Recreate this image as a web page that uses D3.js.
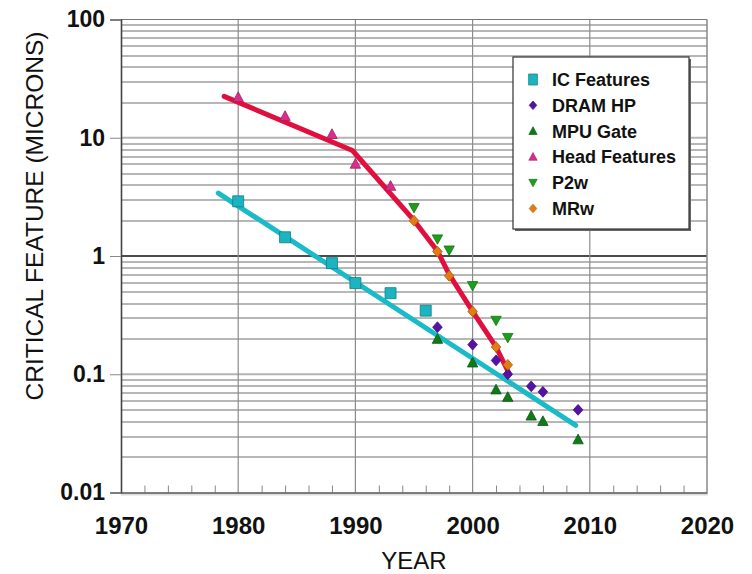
<!DOCTYPE html>
<html>
<head>
<meta charset="utf-8">
<script src="https://cdn.jsdelivr.net/npm/d3@7"></script>
<style>
  body { margin: 0; background: #fff; }
  svg { display: block; font-family: Arial, "Liberation Sans", sans-serif; }
</style>
</head>
<body>
<svg id="chart"></svg>
<script>
const WIDTH = 752
const HEIGHT = 574
const MARGIN = { left: 121, top: 19.5, right: 45, bottom: 81.5 }
const CHART_WIDTH = WIDTH - MARGIN.left - MARGIN.right
const CHART_HEIGHT = HEIGHT - MARGIN.top - MARGIN.bottom

// data: [year, microns]
const icFeatures = [[1980, 2.9], [1984, 1.44], [1988, 0.87], [1990, 0.59], [1993, 0.485], [1996, 0.345]]
const dramHP = [[1997, 0.25], [2000, 0.178], [2002, 0.131], [2003, 0.1], [2005, 0.079], [2006, 0.071], [2009, 0.05]]
const mpuGate = [[1997, 0.198], [2000, 0.125], [2002, 0.074], [2003, 0.064], [2005, 0.0445], [2006, 0.04], [2009, 0.028]]
const headFeatures = [[1980, 22], [1984, 15.2], [1988, 10.7], [1990, 6.0], [1993, 3.9]]
const p2w = [[1995, 2.56], [1997, 1.39], [1998, 1.12], [2000, 0.56], [2002, 0.285], [2003, 0.204]]
const mrw = [[1995, 1.99], [1997, 1.09], [1998, 0.68], [2000, 0.34], [2002, 0.17], [2003, 0.12]]

// trend lines
const icTrend = [[1978.3, 3.4], [2008.8, 0.037]]
const headTrend = [[1978.8, 22.4], [1989.75, 7.8], [1995, 2.0], [1997, 1.1], [1998, 0.7], [2000, 0.34], [2002, 0.17], [2003.1, 0.102]]

const yearTicks = [1970, 1980, 1990, 2000, 2010, 2020]
const valueTicks = [100, 10, 1, 0.1, 0.01]
const valueLabels = ["100", "10", "1", "0.1", "0.01"]

const series = [
  { name: "IC Features", data: icFeatures, shape: "square", fill: "#1cb4c0", stroke: "#0c7d86" },
  { name: "DRAM HP", data: dramHP, shape: "diamond", fill: "#5512a6", stroke: "#3c0a80" },
  { name: "MPU Gate", data: mpuGate, shape: "up", fill: "#0f7a18", stroke: "#0a5a10" },
  { name: "Head Features", data: headFeatures, shape: "up", fill: "#d8308a", stroke: "#a01c62" },
  { name: "P2w", data: p2w, shape: "down", fill: "#1c9e1c", stroke: "#127412" },
  { name: "MRw", data: mrw, shape: "diamond", fill: "#e07c12", stroke: "#b05e08" }
]

function shape(kind) {
  if (kind == "square") return "M-5.5,-5.5H5.5V5.5H-5.5Z"
  if (kind == "diamond") return "M0,-5.4L4.8,0L0,5.4L-4.8,0Z"
  if (kind == "up") return "M0,-5.5L5.2,4.2L-5.2,4.2Z"
  if (kind == "down") return "M0,5.2L5.2,-4.2L-5.2,-4.2Z"
}

let svg = d3.select("#chart").attr("width", WIDTH).attr("height", HEIGHT)

let xScale = d3.scaleLinear().domain([1970, 2020]).range([0, CHART_WIDTH])
let yScale = d3.scaleLog().domain([0.01, 100]).range([CHART_HEIGHT, 0])

let plot = svg.append("g").attr("transform", `translate(${MARGIN.left},${MARGIN.top})`)

// horizontal grid: 2..9 in each decade
let minorValues = []
for (let d = 0.01; d < 100; d *= 10) {
  for (let k = 2; k <= 9; k++) minorValues.push(d * k)
}
plot.append("g").selectAll("line")
  .data(minorValues)
  .enter().append("line")
  .attr("x1", 0).attr("x2", CHART_WIDTH)
  .attr("y1", d => Math.round(yScale(d)) + 0.5)
  .attr("y2", d => Math.round(yScale(d)) + 0.5)
  .attr("stroke", "#6e6e6e").attr("stroke-width", 1)

plot.append("g").selectAll("line")
  .data([10, 0.1])
  .enter().append("line")
  .attr("x1", 0).attr("x2", CHART_WIDTH)
  .attr("y1", d => yScale(d)).attr("y2", d => yScale(d))
  .attr("stroke", "#b4b4b4").attr("stroke-width", 2)

plot.append("line")
  .attr("x1", 0).attr("x2", CHART_WIDTH)
  .attr("y1", yScale(1)).attr("y2", yScale(1))
  .attr("stroke", "#111").attr("stroke-width", 1.5)

// vertical grid
plot.append("g").selectAll("line")
  .data([1980, 1990, 2000, 2010])
  .enter().append("line")
  .attr("x1", d => xScale(d)).attr("x2", d => xScale(d))
  .attr("y1", 0).attr("y2", CHART_HEIGHT)
  .attr("stroke", "#8c8c8c").attr("stroke-width", 1.2)

// frame
plot.append("line").attr("x1", 0).attr("x2", CHART_WIDTH).attr("y1", 0).attr("y2", 0)
  .attr("stroke", "#777").attr("stroke-width", 1.2)
plot.append("line").attr("x1", CHART_WIDTH).attr("x2", CHART_WIDTH).attr("y1", 0).attr("y2", CHART_HEIGHT)
  .attr("stroke", "#888").attr("stroke-width", 1.5)
plot.append("line").attr("x1", 0).attr("x2", CHART_WIDTH + 1).attr("y1", CHART_HEIGHT + 2).attr("y2", CHART_HEIGHT + 2)
  .attr("stroke", "#dcdcdc").attr("stroke-width", 2)

// y axis
let yAxis = d3.axisLeft(yScale)
  .tickValues(valueTicks)
  .tickFormat((v, i) => valueLabels[i])
  .tickSize(11)
  .tickPadding(5)
let yAxisGroup = plot.append("g").call(yAxis)
yAxisGroup.select(".domain").attr("stroke", "#444").attr("stroke-width", 1.6)
yAxisGroup.selectAll(".tick line").attr("stroke", "#888")
yAxisGroup.selectAll("text")
  .attr("font-size", 23).attr("font-weight", "bold").attr("fill", "#111")
  .attr("font-family", "Arial, 'Liberation Sans', sans-serif")

// x axis: minor ticks every 2 years pointing up
let xMinor = d3.axisBottom(xScale)
  .tickValues(d3.range(1972, 2020, 2).filter(v => v % 10 != 0))
  .tickSize(-7)
  .tickFormat("")
let xMinorGroup = plot.append("g").attr("transform", `translate(0,${CHART_HEIGHT})`).call(xMinor)
xMinorGroup.select(".domain").remove()
xMinorGroup.selectAll(".tick line").attr("stroke", "#888")

let xAxis = d3.axisBottom(xScale)
  .tickValues(yearTicks)
  .tickFormat(d3.format("d"))
  .tickSize(0)
  .tickPadding(24)
let xAxisGroup = plot.append("g").attr("transform", `translate(0,${CHART_HEIGHT})`).call(xAxis)
xAxisGroup.select(".domain").attr("stroke", "#555").attr("stroke-width", 1.6)
xAxisGroup.selectAll("text")
  .attr("font-size", 24).attr("font-weight", "bold").attr("fill", "#111")
  .attr("font-family", "Arial, 'Liberation Sans', sans-serif")

// trend lines
let line = d3.line().x(d => xScale(d[0])).y(d => yScale(d[1]))
plot.append("path").datum(icTrend)
  .attr("d", line).attr("fill", "none")
  .attr("stroke", "#1bbac8").attr("stroke-width", 5).attr("stroke-linecap", "round")
plot.append("path").datum(headTrend)
  .attr("d", line).attr("fill", "none")
  .attr("stroke", "#e0103e").attr("stroke-width", 5)
  .attr("stroke-linecap", "round").attr("stroke-linejoin", "round")

// markers
series.forEach(s => {
  plot.append("g").selectAll("path")
    .data(s.data)
    .enter().append("path")
    .attr("d", shape(s.shape))
    .attr("transform", d => `translate(${xScale(d[0])},${yScale(d[1])})`)
    .attr("fill", s.fill)
    .attr("stroke", s.stroke).attr("stroke-width", 0.8)
})

// legend
let legend = svg.append("g").attr("transform", "translate(513,57)")
legend.append("rect").attr("x", 2).attr("y", 2).attr("width", 176).attr("height", 172).attr("fill", "#666")
legend.append("rect").attr("width", 176).attr("height", 172)
  .attr("fill", "#fff").attr("stroke", "#333").attr("stroke-width", 1.2)
let rows = legend.selectAll(".row")
  .data(series)
  .enter().append("g")
  .attr("transform", (d, i) => `translate(20,${22.5 + i * 25.8})`)
rows.append("path")
  .attr("d", d => shape(d.shape))
  .attr("transform", d => d.shape == "square" ? "scale(0.8,1)" : "scale(0.8)")
  .attr("fill", d => d.fill).attr("stroke", d => d.stroke).attr("stroke-width", 0.8)
rows.append("text")
  .attr("x", 19).attr("dy", "0.36em")
  .attr("font-size", 18).attr("font-weight", "bold").attr("fill", "#111")
  .text(d => d.name)

// axis titles
svg.append("text")
  .attr("transform", "translate(43,216) rotate(-90)")
  .attr("text-anchor", "middle")
  .attr("font-size", 24.5).attr("fill", "#111")
  .text("CRITICAL FEATURE (MICRONS)")

svg.append("text")
  .attr("x", MARGIN.left + CHART_WIDTH / 2).attr("y", 569)
  .attr("text-anchor", "middle")
  .attr("font-size", 24).attr("fill", "#111")
  .text("YEAR")
</script>
</body>
</html>
